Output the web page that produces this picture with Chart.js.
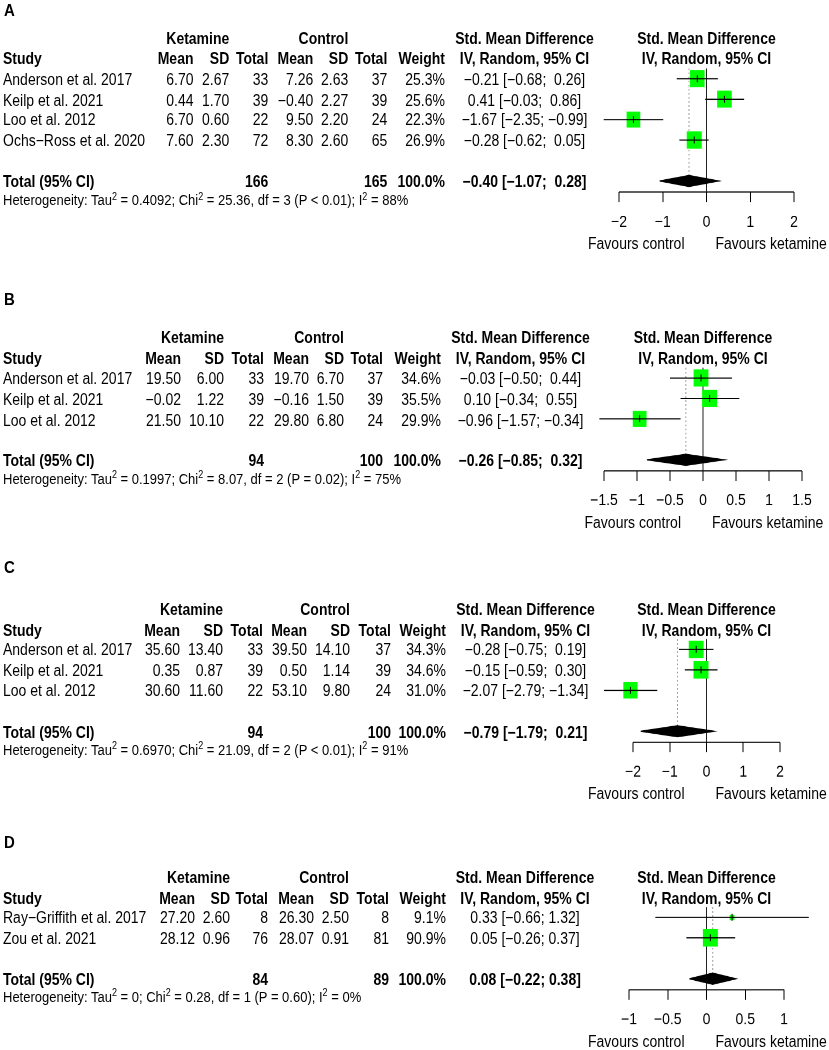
<!DOCTYPE html>
<html>
<head>
<meta charset="utf-8">
<script src="https://cdn.jsdelivr.net/npm/chart.js@4.4.1/dist/chart.umd.min.js"></script>
<style>
  html, body { margin: 0; padding: 0; background: #fff; }
  body { width: 829px; height: 1050px; overflow: hidden; position: relative; }
  #fig {
    position: absolute; left: 0; top: 0; width: 829px; height: 906px;
    transform: scaleY(1.16); transform-origin: 0 0;
    font-family: 'Liberation Sans', Arial, sans-serif; font-size: 14px; color: #000;
  }
  .t { position: absolute; line-height: 20px; white-space: pre; }
  .b { font-weight: bold; }
  .r { transform: translateX(-100%); }
  .c { transform: translateX(-50%); }
  .lbl { font-size: 15px; font-weight: bold; }
  .het { font-size: 13px; }
  .het sup { font-size: 9px; vertical-align: 5px; line-height: 0; }
  canvas { position: absolute; }
</style>
</head>
<body>
<div id="fig"></div>
<script>
// ---- A ----
const studiesA = ['Anderson et al. 2017', 'Keilp et al. 2021', 'Loo et al. 2012', 'Ochs\u2212Ross et al. 2020'];
const ketMeanA = [6.70, 0.44, 6.70, 7.60];
const ketSdA = [2.67, 1.70, 0.60, 2.30];
const ketNA = [33, 39, 22, 72];
const ctlMeanA = [7.26, -0.40, 9.50, 8.30];
const ctlSdA = [2.63, 2.27, 2.20, 2.60];
const ctlNA = [37, 39, 24, 65];
const weightA = [25.3, 25.6, 22.3, 26.9];
const smdA = [-0.21, 0.41, -1.67, -0.28];
const lowerA = [-0.68, -0.03, -2.35, -0.62];
const upperA = [0.26, 0.86, -0.99, 0.05];
const pooledA = [-0.40, -1.07, 0.28];
const hetA = ['0.4092', '25.36', 3, '< 0.01', 88];
const ticksA = [-2, -1, 0, 1, 2];

// ---- B ----
const studiesB = ['Anderson et al. 2017', 'Keilp et al. 2021', 'Loo et al. 2012'];
const ketMeanB = [19.50, -0.02, 21.50];
const ketSdB = [6.00, 1.22, 10.10];
const ketNB = [33, 39, 22];
const ctlMeanB = [19.70, -0.16, 29.80];
const ctlSdB = [6.70, 1.50, 6.80];
const ctlNB = [37, 39, 24];
const weightB = [34.6, 35.5, 29.9];
const smdB = [-0.03, 0.10, -0.96];
const lowerB = [-0.50, -0.34, -1.57];
const upperB = [0.44, 0.55, -0.34];
const pooledB = [-0.26, -0.85, 0.32];
const hetB = ['0.1997', '8.07', 2, '= 0.02', 75];
const ticksB = [-1.5, -1, -0.5, 0, 0.5, 1, 1.5];

// ---- C ----
const studiesC = ['Anderson et al. 2017', 'Keilp et al. 2021', 'Loo et al. 2012'];
const ketMeanC = [35.60, 0.35, 30.60];
const ketSdC = [13.40, 0.87, 11.60];
const ketNC = [33, 39, 22];
const ctlMeanC = [39.50, 0.50, 53.10];
const ctlSdC = [14.10, 1.14, 9.80];
const ctlNC = [37, 39, 24];
const weightC = [34.3, 34.6, 31.0];
const smdC = [-0.28, -0.15, -2.07];
const lowerC = [-0.75, -0.59, -2.79];
const upperC = [0.19, 0.30, -1.34];
const pooledC = [-0.79, -1.79, 0.21];
const hetC = ['0.6970', '21.09', 2, '< 0.01', 91];
const ticksC = [-2, -1, 0, 1, 2];

// ---- D ----
const studiesD = ['Ray\u2212Griffith et al. 2017', 'Zou et al. 2021'];
const ketMeanD = [27.20, 28.12];
const ketSdD = [2.60, 0.96];
const ketND = [8, 76];
const ctlMeanD = [26.30, 28.07];
const ctlSdD = [2.50, 0.91];
const ctlND = [8, 81];
const weightD = [9.1, 90.9];
const smdD = [0.33, 0.05];
const lowerD = [-0.66, -0.26];
const upperD = [1.32, 0.37];
const pooledD = [0.08, -0.22, 0.38];
const hetD = ['0', '0.28', 1, '= 0.60', 0];
const ticksD = [-1, -0.5, 0, 0.5, 1];

const totalWeight = 100.0;

// layout (reference pixels)
const K = 1.16;          // vertical stretch of the figure
const ROW = 20.45;       // row spacing
const PLOT_L = 560, PLOT_R = 829;
const BOX = 15;          // side of the biggest square
const DH = 0.27;         // diamond half height in rows
const GREEN = '#00ff00';
const FONT = "'Liberation Sans', Arial, sans-serif";

const panels = [
  { key: 'A', labelY: 10, y1: 79, zeroX: 706.5, unit: 43.75, ticks: ticksA,
    cols: [193.5, 229.3, 268.3, 313.3, 348.3, 387.3], weightX: 445, effX: 524.5,
    studies: studiesA, km: ketMeanA, ks: ketSdA, kn: ketNA, cm: ctlMeanA, cs: ctlSdA, cn: ctlNA,
    w: weightA, smd: smdA, lo: lowerA, hi: upperA, pooled: pooledA, het: hetA },
  { key: 'B', labelY: 299, y1: 378.5, zeroX: 703, unit: 66, ticks: ticksB,
    cols: [181, 224, 264, 309, 344, 383], weightX: 441, effX: 520.5,
    studies: studiesB, km: ketMeanB, ks: ketSdB, kn: ketNB, cm: ctlMeanB, cs: ctlSdB, cn: ctlNB,
    w: weightB, smd: smdB, lo: lowerB, hi: upperB, pooled: pooledB, het: hetB },
  { key: 'C', labelY: 567, y1: 649.8, zeroX: 706.5, unit: 36.75, ticks: ticksC,
    cols: [180, 223, 263, 307, 350, 391], weightX: 446, effX: 525.5,
    studies: studiesC, km: ketMeanC, ks: ketSdC, kn: ketNC, cm: ctlMeanC, cs: ctlSdC, cn: ctlNC,
    w: weightC, smd: smdC, lo: lowerC, hi: upperC, pooled: pooledC, het: hetC },
  { key: 'D', labelY: 842.5, y1: 917.8, zeroX: 706.5, unit: 77.5, ticks: ticksD,
    cols: [195, 230, 268, 314, 349, 389], weightX: 446, effX: 525,
    studies: studiesD, km: ketMeanD, ks: ketSdD, kn: ketND, cm: ctlMeanD, cs: ctlSdD, cn: ctlND,
    w: weightD, smd: smdD, lo: lowerD, hi: upperD, pooled: pooledD, het: hetD }
];

const fig = document.getElementById('fig');
const fmt = (v, d) => v.toFixed(d).replace('-', '\u2212');
const sum = a => a.reduce((s, v) => s + v, 0);

function put(text, x, y, cls, html) {
  const el = document.createElement('div');
  el.className = 't ' + (cls || '');
  if (html) el.innerHTML = text; else el.textContent = text;
  el.style.left = x + 'px';
  el.style.top = (y / K - 10) + 'px';
  fig.appendChild(el);
}

Chart.defaults.font.family = FONT;
Chart.defaults.font.size = 14;
Chart.defaults.color = '#000';

panels.forEach(p => {
  const n = p.studies.length;
  const rowY = r => p.y1 + (r - 1) * ROW;
  const totRow = n + 2;
  const axisRow = totRow + 0.54;
  const topRow = 0.5;

  // ---- table text ----
  put(p.key, 4, p.labelY, 'lbl');
  put('Ketamine', p.cols[1], rowY(-1), 'b r');
  put('Control', p.cols[4], rowY(-1), 'b r');
  put('Std. Mean Difference', p.effX, rowY(-1), 'b c');
  put('Std. Mean Difference', p.zeroX, rowY(-1), 'b c');
  put('Study', 3, rowY(0), 'b');
  ['Mean', 'SD', 'Total', 'Mean', 'SD', 'Total'].forEach((h, i) => put(h, p.cols[i], rowY(0), 'b r'));
  put('Weight', p.weightX, rowY(0), 'b r');
  put('IV, Random, 95% CI', p.effX, rowY(0), 'b c');
  put('IV, Random, 95% CI', p.zeroX, rowY(0), 'b c');

  const loW = Math.max(...p.lo.concat([p.pooled[1]]).map(v => fmt(v, 2).length));
  const hiW = Math.max(...p.hi.concat([p.pooled[2]]).map(v => fmt(v, 2).length));
  const eff = (e, l, h) => fmt(e, 2) + ' [' + fmt(l, 2).padStart(loW) + '; ' + fmt(h, 2).padStart(hiW) + ']';

  p.studies.forEach((s, i) => {
    const y = rowY(i + 1);
    put(s, 3, y);
    put(fmt(p.km[i], 2), p.cols[0], y, 'r');
    put(fmt(p.ks[i], 2), p.cols[1], y, 'r');
    put(String(p.kn[i]), p.cols[2], y, 'r');
    put(fmt(p.cm[i], 2), p.cols[3], y, 'r');
    put(fmt(p.cs[i], 2), p.cols[4], y, 'r');
    put(String(p.cn[i]), p.cols[5], y, 'r');
    put(fmt(p.w[i], 1) + '%', p.weightX, y, 'r');
    put(eff(p.smd[i], p.lo[i], p.hi[i]), p.effX, y, 'c');
  });

  const ty = rowY(totRow);
  put('Total (95% CI)', 3, ty, 'b');
  put(String(sum(p.kn)), p.cols[2], ty, 'b r');
  put(String(sum(p.cn)), p.cols[5], ty, 'b r');
  put(fmt(totalWeight, 1) + '%', p.weightX, ty, 'b r');
  put(eff(p.pooled[0], p.pooled[1], p.pooled[2]), p.effX, ty, 'b c');

  const [tau2, chi2, df, pv, i2] = p.het;
  put('Heterogeneity: Tau<sup>2</sup> = ' + tau2 + '; Chi<sup>2</sup> = ' + chi2 + ', df = ' + df +
      ' (P ' + pv.replace('<', '&lt;') + '); I<sup>2</sup> = ' + i2 + '%', 3, ty + 19, 'het', true);

  const axisY = rowY(axisRow);
  put('Favours control', p.zeroX - 22, axisY + 51, 'r');
  put('Favours ketamine', p.zeroX + 9, axisY + 51);

  // ---- forest plot ----
  const yTop = rowY(topRow);
  const areaH = (axisY - yTop) / K;
  const canvasH = Math.ceil(areaH + 40);
  const axisH = canvasH - areaH;
  const canvas = document.createElement('canvas');
  canvas.width = PLOT_R - PLOT_L;
  canvas.height = canvasH;
  canvas.style.left = PLOT_L + 'px';
  canvas.style.top = (yTop / K) + 'px';
  fig.appendChild(canvas);

  const rows = p.smd.map((v, i) => ({ x: v, y: i + 1 }));
  const maxW = Math.max(...p.w);
  const [est, plo, phi] = p.pooled;
  const line = (data, color, extra) => Object.assign({
    data, showLine: true, borderColor: color, borderWidth: 1, pointRadius: 0, fill: false
  }, extra || {});

  const datasets = [];
  // estimate ticks inside the squares
  datasets.push({ data: rows, showLine: false, pointStyle: 'line', pointRotation: 90, pointRadius: 3,
                  pointBorderColor: '#000', pointBorderWidth: 1 });
  // confidence intervals
  p.smd.forEach((v, i) => datasets.push(line([{ x: p.lo[i], y: i + 1 }, { x: p.hi[i], y: i + 1 }], '#000')));
  // weighted squares
  datasets.push({ data: rows, showLine: false, pointStyle: 'rect',
                  pointRadius: p.w.map(w => BOX * Math.sqrt(w / maxW) / Math.SQRT2),
                  pointBackgroundColor: GREEN, pointBorderWidth: 0 });
  // pooled diamond
  datasets.push(line([{ x: plo, y: totRow }, { x: est, y: totRow - DH }, { x: phi, y: totRow },
                      { x: est, y: totRow + DH }, { x: plo, y: totRow }], '#000',
                     { fill: 'shape', backgroundColor: '#000' }));
  // pooled estimate (dotted)
  datasets.push(line([{ x: est, y: topRow }, { x: est, y: totRow }], '#9a9a9a', { borderDash: [1.5, 2] }));
  // line of no effect
  datasets.push(line([{ x: 0, y: topRow }, { x: 0, y: axisRow }], '#222'));
  // axis line over the tick range
  datasets.push(line([{ x: p.ticks[0], y: axisRow }, { x: p.ticks[p.ticks.length - 1], y: axisRow }], '#000'));

  new Chart(canvas, {
    type: 'scatter',
    data: { datasets: datasets.map(d => Object.assign({ clip: false }, d)) },
    options: {
      responsive: false,
      animation: false,
      devicePixelRatio: 2,
      events: [],
      layout: { padding: 0, autoPadding: false },
      plugins: { legend: { display: false }, tooltip: { enabled: false } },
      scales: {
        x: {
          type: 'linear',
          min: (PLOT_L - p.zeroX) / p.unit,
          max: (PLOT_R - p.zeroX) / p.unit,
          afterBuildTicks: s => { s.ticks = p.ticks.map(v => ({ value: v })); },
          afterFit: s => { s.height = axisH; s.paddingLeft = 0; s.paddingRight = 0; },
          border: { display: false },
          grid: { drawOnChartArea: false, drawTicks: true, tickLength: 10 / K, color: '#000', lineWidth: 1 },
          ticks: { padding: 9, color: '#000', maxRotation: 0, autoSkip: false,
                   font: { family: FONT, size: 14 },
                   callback: v => String(v).replace('-', '\u2212') }
        },
        y: { type: 'linear', display: false, reverse: true, min: topRow, max: axisRow }
      }
    }
  });
});
</script>
</body>
</html>
